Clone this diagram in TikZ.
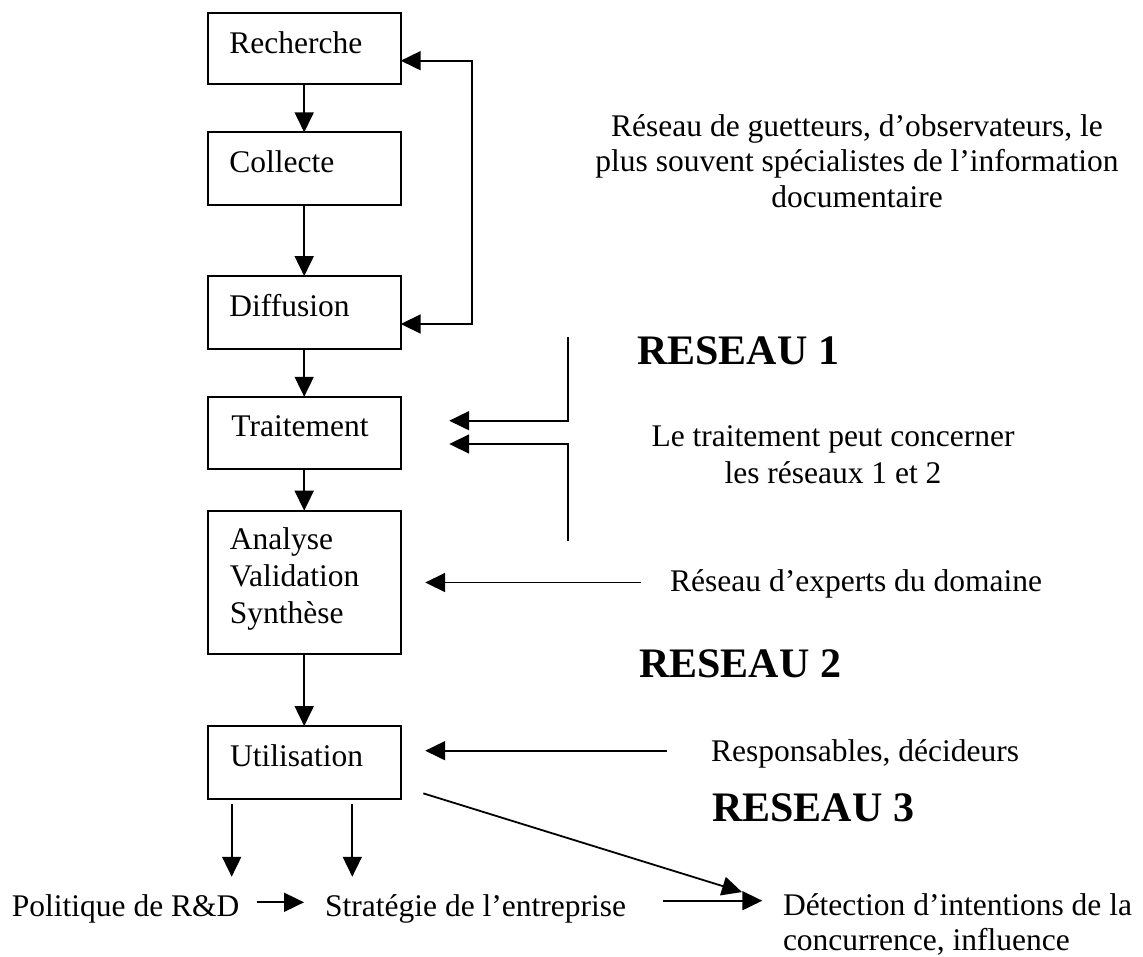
\documentclass[tikz,border=0pt]{standalone}
\usepackage{fontspec}
\setmainfont{Liberation Serif}
\usetikzlibrary{arrows.meta}
\begin{document}
\begin{tikzpicture}[x=1pt,y=-1pt,
  >={Triangle[length=20pt,width=19pt]},
  box/.style={draw, line width=1.8pt, minimum width=193pt, inner sep=0pt, outer sep=0pt},
  txt/.style={inner sep=0pt, font=\fontsize{31.5}{36}\selectfont},
  big/.style={inner sep=0pt, font=\fontsize{42}{46}\selectfont\bfseries},
  ln/.style={line width=1.8pt}]
\useasboundingbox (0,0) rectangle (1143,956);

% boxes
\node[box, minimum height=71.6pt] (rech) at (304.2,48.5) {};
\node[box, minimum height=72.7pt] (coll) at (304.2,168.7) {};
\node[box, minimum height=73.3pt] (diff) at (304.2,312.7) {};
\node[box, minimum height=72.3pt] (trait) at (304.2,432.9) {};
\node[box, minimum height=143.6pt] (anal) at (304.2,582.5) {};
\node[box, minimum height=73.3pt] (util) at (304.2,762.7) {};

% box texts
\node[txt, anchor=base west] (trech) at ([shift={(21.5,40.6)}]rech.north west) {Recherche};
\node[txt, anchor=base west] (tcoll) at ([shift={(21.5,40)}]coll.north west) {Collecte};
\node[txt, anchor=base west] (tdiff) at ([shift={(21.5,40)}]diff.north west) {Diffusion};
\node[txt, anchor=base west] (ttrait) at ([shift={(23.5,40)}]trait.north west) {Traitement};
\node[txt, anchor=base west, align=left, font=\fontsize{31.5}{37}\selectfont] (tanal) at ([shift={(22,112.6)}]anal.north west) {Analyse\\Validation\\Synthèse};
\node[txt, anchor=base west] (tutil) at ([shift={(22.3,40.7)}]util.north west) {Utilisation};

% right-hand texts
\node[txt, align=center, anchor=base, font=\fontsize{31.5}{35.5}\selectfont] (tguet) at (857,207) {Réseau de guetteurs, d’observateurs, le\\plus souvent spécialistes de l’information\\documentaire};
\node[big, anchor=base west] (res1) at (637,364) {RESEAU 1};
\node[txt, align=center, anchor=base, font=\fontsize{31.5}{36.6}\selectfont] (tpeut) at (833,483.3) {Le traitement peut concerner\\les réseaux 1 et 2};
\node[txt, anchor=base west] (texp) at (670,591.7) {Réseau d’experts du domaine};
\node[big, anchor=base west] (res2) at (639,677) {RESEAU 2};
\node[txt, anchor=base west] (tresp) at (711,761.7) {Responsables, décideurs};
\node[big, anchor=base west] (res3) at (712,821) {RESEAU 3};

% bottom texts
\node[txt, anchor=base west] (tpol) at (11.7,916) {Politique de R\&D};
\node[txt, anchor=base west] (tstr) at (325,916.7) {Stratégie de l’entreprise};
\node[txt, anchor=base west, align=left, font=\fontsize{31.5}{35}\selectfont] (tdet) at (782.8,950) {Détection d’intentions de la\\concurrence, influence};

% coordinates of free ends
\coordinate (br1) at (568,337);
\coordinate (br2) at (568,541);
\coordinate (e1) at (641,582.5);
\coordinate (r1) at (666.5,750.7);

% vertical chain
\draw[ln,->] (rech) -- (coll);
\draw[ln,->] (coll) -- (diff);
\draw[ln,->] (diff) -- (trait);
\draw[ln,->] (trait) -- (anal);
\draw[ln,->] (anal) -- (util);

% feedback loop
\draw[ln,<->] ([yshift=-12.2pt]rech.east) -- ++(71.5,0) |- ([yshift=-11.3pt]diff.east);

% bracket to Traitement
\draw[ln,->] (br1) |- ([xshift=48.5pt,yshift=12.2pt]trait.east);
\draw[ln,->] (br2) |- ([xshift=48.5pt,yshift=-11.1pt]trait.east);

% experts and responsables
\draw[ln,->] (e1) -- ([xshift=24.5pt]anal.east);
\draw[ln,->] (r1) -- ([xshift=24.5pt,yshift=12pt]util.east);

% outputs of Utilisation
\draw[ln,->] ([shift={(-72.5,4.7)}]util.south) -- ++(0,72.7);
\draw[ln,->] ([shift={(48.1,4.7)}]util.south) -- ++(0,72.7);
\draw[ln,->] ([shift={(22.6,-6)}]util.south east) -- ++(318.7,98.7);

% bottom horizontal arrows
\draw[ln,->] ([shift={(17,-13.7)}]tpol.base east) -- ([shift={(-21,-14.4)}]tstr.base west);
\draw[ln,->] ([shift={(37,-16)}]tstr.base east) -- ++(99,0);
\end{tikzpicture}
\end{document}
